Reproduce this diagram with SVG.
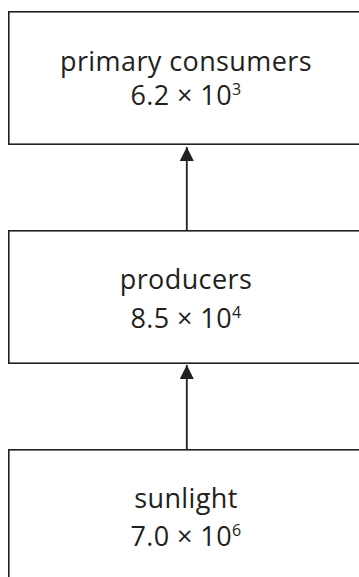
<svg xmlns="http://www.w3.org/2000/svg" width="359" height="577" viewBox="0 0 359 577">
<style>
.box{fill:#fff;stroke:#231f20;stroke-width:1.6}
.t{font-family:"Open Sans","Liberation Sans",sans-serif;font-size:27px;letter-spacing:0.4px;fill:#231f20;text-anchor:middle}
.sup{font-size:16px}
.conn{stroke:#231f20;stroke-width:1.8;fill:none}
</style>
<defs>
<marker id="ah" markerUnits="userSpaceOnUse" markerWidth="16" markerHeight="16" refX="14" refY="7" orient="auto">
<path d="M0,0 L14,7 L0,14 Z" fill="#231f20"/>
</marker>
</defs>
<rect width="359" height="577" fill="#fff"/>
<g id="primary-consumers">
<rect class="box" x="8.8" y="11.8" width="370" height="132.4"/>
<text class="t" x="186" y="71">primary consumers</text>
<text class="t" x="186" y="105">6.2 × 10<tspan class="sup" dy="-10">3</tspan></text>
</g>
<g id="producers">
<rect class="box" x="8.8" y="230.8" width="370" height="132.4"/>
<text class="t" x="186" y="289">producers</text>
<text class="t" x="186" y="328">8.5 × 10<tspan class="sup" dy="-10">4</tspan></text>
</g>
<g id="sunlight">
<rect class="box" x="8.8" y="449.8" width="370" height="160"/>
<text class="t" x="186" y="508">sunlight</text>
<text class="t" x="186" y="546">7.0 × 10<tspan class="sup" dy="-10">6</tspan></text>
</g>
<g id="connectors">
<line class="conn" x1="186.8" y1="230" x2="186.8" y2="147" marker-end="url(#ah)"/>
<line class="conn" x1="186.8" y1="449" x2="186.8" y2="365" marker-end="url(#ah)"/>
</g>
</svg>
